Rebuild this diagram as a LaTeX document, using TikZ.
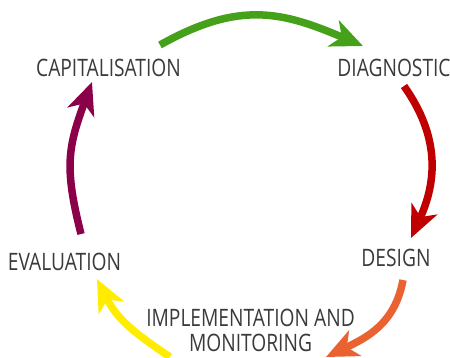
\documentclass[tikz,border=0pt]{standalone}
\usepackage{fontspec}
\setmainfont{Open Sans}[FakeStretch=0.8]
\usetikzlibrary{arrows.meta}
\definecolor{cgreen}{HTML}{46A11A}
\definecolor{cred}{HTML}{C00000}
\definecolor{cpurple}{HTML}{8A0049}
\definecolor{corange}{HTML}{EA6230}
\definecolor{cyellow}{HTML}{FFEC00}
\definecolor{ctext}{HTML}{3A3A3A}
\begin{document}
\begin{tikzpicture}[x=1pt,y=-1pt,
  lbl/.style={text=ctext,inner sep=0pt,font=\fontsize{24}{26}\selectfont},
  cyc/.style={line width=7.5pt,-{Stealth[length=32pt,width=28pt,inset=9pt]}}]
\useasboundingbox (0,0) rectangle (450,357);
\node[lbl] (cap) at (108.5,67.5) {CAPITALISATION};
\node[lbl] (dia) at (394,67.5) {DIAGNOSTIC};
\node[lbl] (des) at (396,257.5) {DESIGN};
\node[lbl] (eva) at (64.5,261.5) {EVALUATION};
\node[lbl] (imp) at (250.5,317.5) {IMPLEMENTATION AND};
\node[lbl] (mon) at (250.5,342.5) {MONITORING};
\coordinate (g0) at (160,45); \coordinate (g1) at (363,46);
\coordinate (r0) at (404,86); \coordinate (r1) at (411,238);
\coordinate (o0) at (403,280); \coordinate (o1) at (326,357);
\coordinate (y0) at (170,357); \coordinate (y1) at (97,279);
\coordinate (p0) at (81,234); \coordinate (p1) at (92,82);
\draw[cyc,cgreen] (g0) .. controls (240,0) and (283,12) .. (g1);
\draw[cyc,cred] (r0) .. controls (440,137) and (437,181) .. (r1);
\draw[cyc,corange] (o0) .. controls (395,324) and (366,338) .. (o1);
\draw[cyc,cyellow] (y0) .. controls (133,332) and (117,319) .. (y1);
\draw[cyc,cpurple] (p0) .. controls (64,167) and (68,147) .. (p1);
\end{tikzpicture}
\end{document}
